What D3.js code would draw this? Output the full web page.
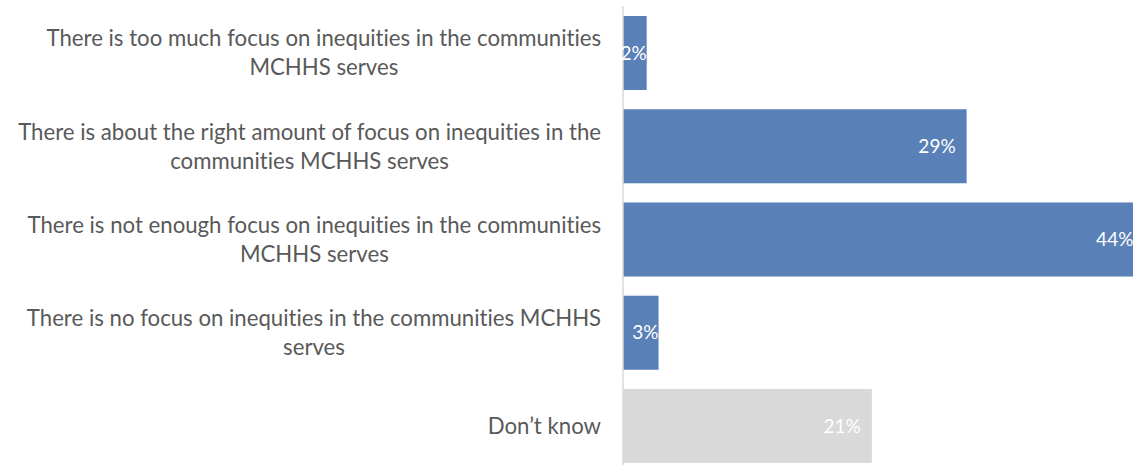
<!DOCTYPE html>
<html>
<head>
<meta charset="utf-8">
<script src="https://cdn.jsdelivr.net/npm/d3@7"></script>
<style>
  html, body { margin: 0; padding: 0; background: #fff; }
  svg { display: block; }
  text { font-variant-ligatures: none; font-feature-settings: "liga" 0, "dlig" 0; }
</style>
</head>
<body>
<svg id="chart" width="1133" height="465"></svg>
<script>
// Survey responses: perceived focus on inequities
const categories = [
  ["There is too much focus on inequities in the communities", "MCHHS serves"],
  ["There is about the right amount of focus on inequities in the", "communities MCHHS serves"],
  ["There is not enough focus on inequities in the communities", "MCHHS serves"],
  ["There is no focus on inequities in the communities MCHHS", "serves"],
  ["Don\u2019t know"]
];
const values = [2, 29, 44, 3, 21];
const barColors = ["#5a80b8", "#5a80b8", "#5a80b8", "#5a80b8", "#d9d9d9"];

const W = 1133, H = 465;
const axisX = 623;
const fontFamily = "Lato, 'Open Sans', sans-serif";

const svg = d3.select("#chart");

const x = d3.scaleLinear().domain([0, 45]).range([axisX, axisX + 45 * 11.85]);
const y = d3.scaleBand()
  .domain(d3.range(categories.length))
  .range([6.4, 472.6])
  .paddingInner(0.206)
  .paddingOuter(0.103);

const labelSize = 22.2;
const valueSize = 19;
const lineH = 29;

// bars
svg.append("g").selectAll("rect")
  .data(values)
  .join("rect")
  .attr("x", x(0))
  .attr("y", (d, i) => y(i))
  .attr("width", d => x(d) - x(0))
  .attr("height", y.bandwidth())
  .attr("fill", (d, i) => barColors[i]);

// category axis line
svg.append("line")
  .attr("x1", axisX).attr("x2", axisX)
  .attr("y1", 6).attr("y2", H)
  .attr("stroke", "#d9d9d9")
  .attr("stroke-width", 1.5);

// category labels: centred multi-line blocks, right-aligned against the axis
const labelRight = 601;
const lg = svg.append("g")
  .attr("font-family", fontFamily)
  .attr("font-size", labelSize)
  .attr("fill", "#595959");

categories.forEach((lines, i) => {
  const t = lg.append("text").attr("text-anchor", "middle");
  const spans = lines.map(l => t.append("tspan").text(l));
  const widths = spans.map(s => s.node().getComputedTextLength());
  const blockW = d3.max(widths);
  const cx = labelRight - blockW / 2;
  const cy = y(i) + y.bandwidth() / 2;
  const first = cy - (lines.length - 1) * lineH / 2;
  spans.forEach((s, j) => {
    s.attr("x", cx).attr("y", first + j * lineH).attr("dy", "0.35em");
  });
});

// value labels inside bar ends
svg.append("g")
  .attr("font-family", fontFamily)
  .attr("font-size", valueSize)
  .attr("fill", "#ffffff")
  .attr("text-anchor", "end")
  .selectAll("text")
  .data(values)
  .join("text")
  .attr("x", d => x(d) - ((x(d) - x(0)) > 60 ? 11 : 0))
  .attr("y", (d, i) => y(i) + y.bandwidth() / 2)
  .attr("dy", "0.35em")
  .text(d => d + "%");
</script>
</body>
</html>
